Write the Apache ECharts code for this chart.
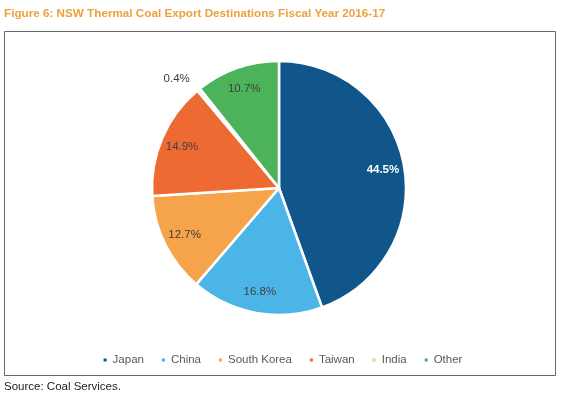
<!DOCTYPE html>
<html><head><meta charset="utf-8">
<script src="https://cdn.jsdelivr.net/npm/echarts@6/dist/echarts.min.js"></script>
<style>html,body{margin:0;padding:0;background:#fff}#c{width:564px;height:398px}</style>
</head><body><div id="c"></div>
<script>
const categories = ['Japan','China','South Korea','Taiwan','India','Other'];
const values = [44.5, 16.8, 12.7, 14.9, 0.4, 10.7];
const colors = ['#11568a','#4cb5e8','#f6a44b','#ee6a33','#d6df8c','#4cb35a'];
const titleText = 'Figure 6: NSW Thermal Coal Export Destinations Fiscal Year 2016-17';
const sourceText = 'Source: Coal Services.';

const chart = echarts.init(document.getElementById('c'));
const data = categories.map((n,i)=>({name:n,value:values[i],itemStyle:{color:colors[i]}}));
const labelData = categories.map((n,i)=>{
  const d = {name:n,value:values[i]};
  if (n==='Japan') d.label = {color:'#ffffff',fontWeight:'bold'};
  if (n==='India') d.label = {show:false};
  return d;
});
chart.setOption({
  animation:false,
  color:colors,
  graphic:[
    {type:'rect',shape:{x:4.5,y:31.5,width:551,height:344},style:{fill:'none',stroke:'#666',lineWidth:1}},
  ],
  title:[
    {text:titleText,left:4,top:8,padding:0,textStyle:{color:'#eba23a',fontSize:11.7,fontWeight:'bold',fontFamily:'Liberation Sans'}},
    {text:sourceText,left:4,top:381,padding:0,textStyle:{color:'#222',fontSize:11.5,fontWeight:'normal',fontFamily:'Liberation Sans'}}
  ],
  legend:{
    bottom:27,left:'center',itemWidth:5,itemHeight:5,itemGap:16,icon:'rect',
    textStyle:{color:'#595959',fontSize:11.5,fontFamily:'Liberation Sans'},
    data:categories
  },
  series:[
    {type:'pie',center:[279,188],radius:[0,127],startAngle:90,clockwise:true,
     avoidLabelOverlap:false,
     itemStyle:{borderColor:'#fff',borderWidth:2.5},
     label:{show:false},labelLine:{show:false},
     data:data},
    {type:'pie',center:[279,188],radius:[78,127],startAngle:90,clockwise:true,
     silent:true,avoidLabelOverlap:false,legendHoverLink:false,
     itemStyle:{color:'rgba(0,0,0,0)',borderWidth:0},
     label:{show:true,position:'inside',formatter:p=>p.value.toFixed(1)+'%',color:'#404040',fontSize:11.5,fontFamily:'Liberation Sans'},
     labelLine:{show:false},
     data:labelData},
    {type:'pie',center:[279,188],radius:[0,127],startAngle:90,clockwise:true,
     silent:true,avoidLabelOverlap:false,legendHoverLink:false,
     itemStyle:{color:'rgba(0,0,0,0)',borderWidth:0},
     label:{show:true,position:'outside',formatter:p=>p.value.toFixed(1)+'%',color:'#404040',fontSize:11.5,fontFamily:'Liberation Sans',distanceToLabelLine:0},
     labelLine:{show:false,length:14,length2:0},
     data:categories.map((n,i)=>({name:n,value:values[i],label:{show:n==='India'}}))}
  ]
});
</script></body></html>
